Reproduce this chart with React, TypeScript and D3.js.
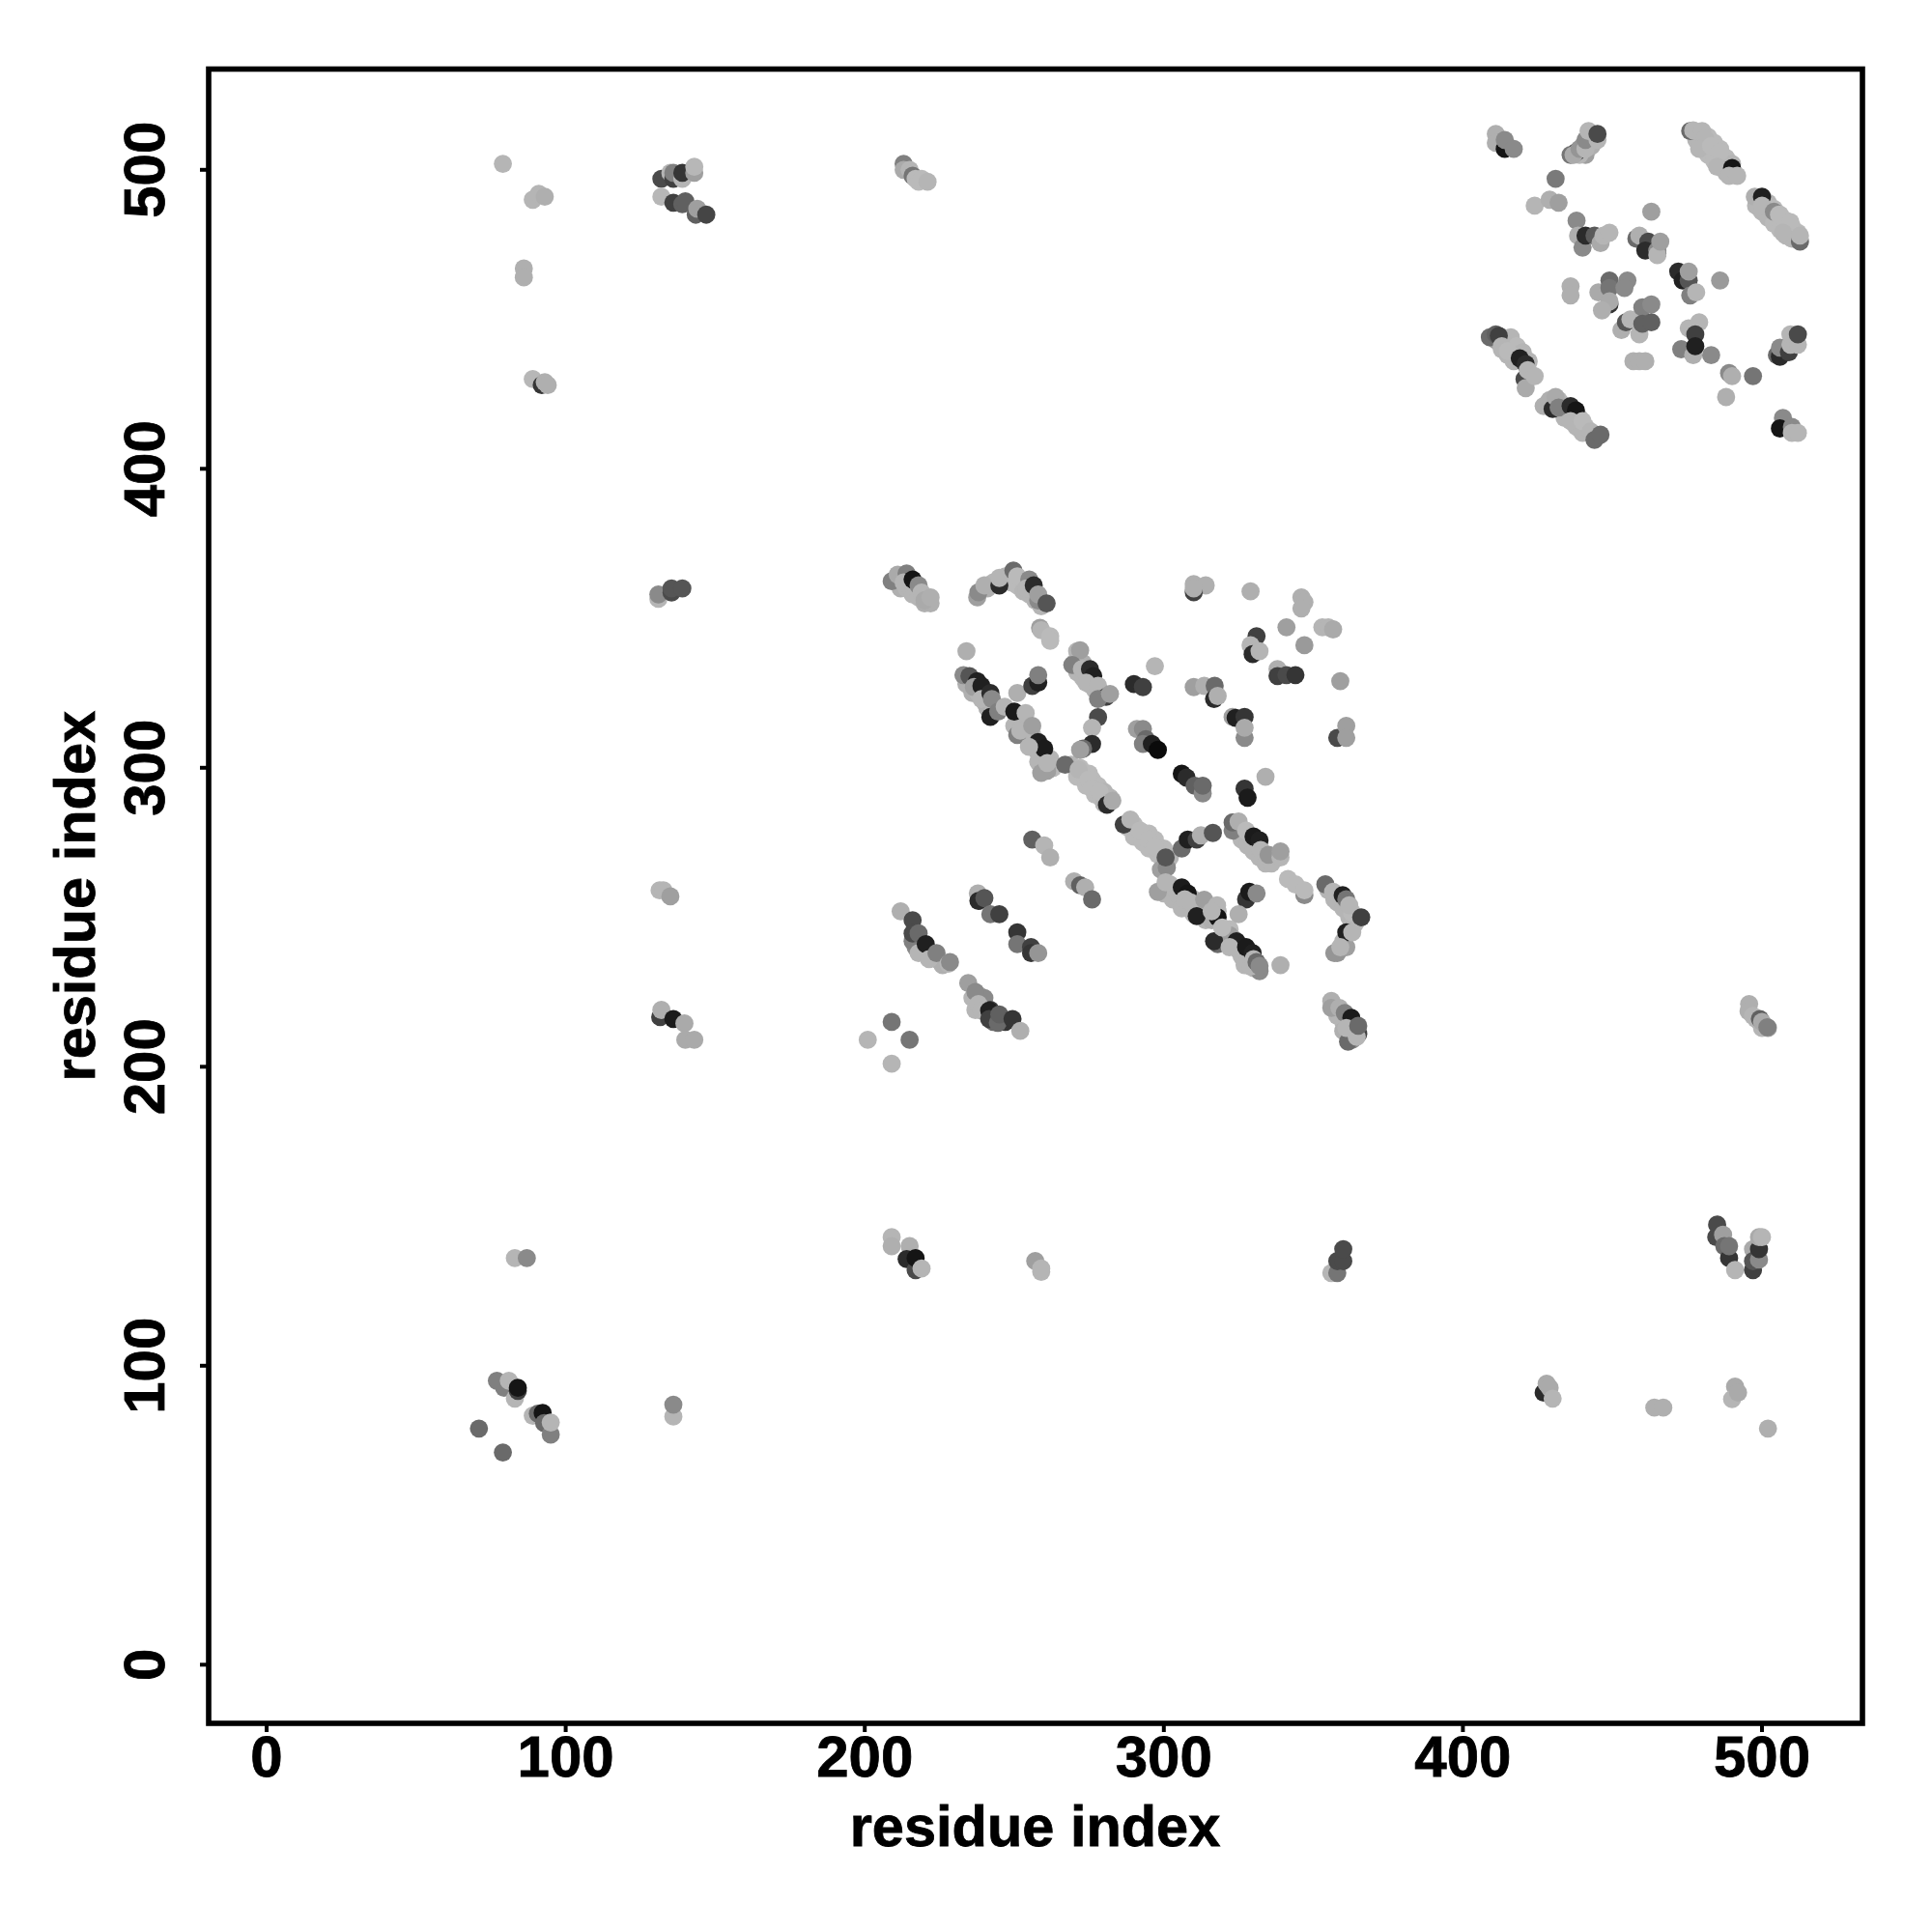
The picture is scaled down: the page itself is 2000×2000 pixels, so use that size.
import React from "react";
import * as d3 from "d3";

type C = [number, number, number];

const tickValues = [0, 100, 200, 300, 400, 500];
const xTitle = "residue index";
const yTitle = "residue index";

// each contact: [residue i, residue j, grey level]
const underlay: C[] = [
  [478,510,170],[480,507,170],[482,505,175],[484,503,175],[486,501,170],[488,499,170],[482,511,175],[484,509,175],[486,507,175],[488,504,175],[490,502,170],
  [498,488,170],[500,486,170],[502,484,170],[504,482,175],[506,480,175],[508,478,170],[502,489,170],[504,487,175],[506,485,175],[508,483,175],[510,481,175],[512,479,175],[510,477,170],
  [413,444,170],[415,442,170],[417,440,175],[419,437,170],[421,435,170],[416,444,170],[418,441,175],[420,439,170],[422,436,170],[411,443,150],[413,440,170],[415,438,170],[417,436,170],
  [429,423,165],[432,423,170],[434,421,170],[435,418,170],[437,417,175],[439,417,175],[441,414,175],[443,412,170],[438,414,170],[440,412,170],[434,417,170],
  [440,508,160],[442,509,170],[441,505,150],[443,508,165],[439,505,170],
  [234,328,165],[236,325,165],[238,325,170],[240,322,170],[241,320,165],[243,319,170],
  [250,314,170],[251,316,170],[253,314,170],[254,311,170],[255,309,170],[256,311,170],[258,305,170],[260,303,170],[262,303,170],[258,302,170],[263,300,175],[261,299,150],
  [269,301,170],[271,297,175],[272,300,175],[273,298,175],[275,298,175],[274,294,175],[276,296,175],[278,294,175],[277,291,175],[279,290,175],[280,292,170],[282,290,170],[280,288,170],
  [288,280,175],[290,281,175],[290,277,175],[292,279,175],[293,275,175],[295,278,175],[295,273,175],[297,276,175],[298,271,175],[300,273,175],[300,268,170],[302,270,170],[299,266,150],
  [300,258,170],[302,261,170],[303,256,170],[305,257,170],[304,259,170],[306,253,170],[308,253,170],[310,256,170],[310,251,170],[312,252,170],[314,249,170],[315,253,170],[316,249,165],[318,252,170],
  [320,244,175],[322,246,175],[323,243,170],[325,239,170],[326,237,170],[328,236,170],[330,233,170],[332,232,130],[327,234,170],[329,233.5,170],[318,241,100],[322,244,150],
  [247,364,170],[249,362,175],[251,361,175],[253,359,170],[255,358,170],[257,356,170],[259,354,170],[258,356,130],[241,360,165],[243,362,170],
  [270,335,165],[271,332,170],[273,330,170],[275,328,170],[277,326,170],[279,324,170],[271,336,170],[273,335,165],[275,331,120],
  [325,279,170],[326,276,170],[328,274,170],[330,272,170],[332,270,170],[334,268,170],[336,268,170],[323,279,120],[329,277,170],
  [355,259,170],[357,256,170],[358,255,170],[360,253,170],[362,250,170],[364,248,175],[363,248,170],[360,242,170],[358,238,140],[361,240,150],
  [212,360,165],[214,360,170],[216,358,170],[218,357,170],[220,355,165],[222,355,165],
  [220,238,170],[222,237,170],[224,236,170],[226,234,165],[218,240,170],[217,240,130],
  [238,224,170],[240,219,170],[240,223,130],[242,219,60],[243,215,100],[236,223,170],[237,219,170],[245,215,60],[247,215,50],
  [358,217,170],[360,215,170],[362,214,170],[364,212,170],[360,212,165],[363,209,130],
  [498,216,170],[500,213,170],[502,213,150],
];
const topLeft: C[] = [
  [79,502,170],[89,490,170],[91,492,170],[93,491,165],[86,467,165],[86,464,165],
  [89,430,172],[92,428,50],[93,429,165],[94,428,165],
  [132,497,70],[135,499,170],[136,497,60],[136,499,120],[139,497,170],[139,499,50],[143,499,150],[143,501,172],
  [132,491,172],[136,489,60],[139,488.5,90],[140,489.5,90],[143.5,485,90],[144,487,150],[147,485,65],
  [213,502,120],[213,500,160],[215,500,170],[216,498,110],[217,497,175],[218,496,175],[219,497,175],[221,496,170],
];
const topRightA: C[] = [
  [411,512,165],[411,509,165],[414,507,20],[414,510,130],[417,507,130],
  [436,505,110],[438,506,60],[437,505,160],[439,507,140],[441,507,170],[441,510,130],[442,513,170],[445,510,170],[445,512,70],
  [431,497,115],[424,488,170],[429,490,165],[432,489,150],
  [438,483,130],[438.5,478,165],[440,474,130],[441,478,40],[444,478,85],[446,475.5,160],[447,478,170],[449,479,170],
  [463,486,150],[458,477,100],[459,478,165],[462,476,70],[461,473,40],[465,472,40],[465,473,130],[465,471.5,170],[466,476,150],
  [472,466,40],[473.5,463,30],[475.5,463,80],[475.5,466,150],[476,458,120],[478,459,170],[486,463,145],
];
const topRightB: C[] = [
  [436,461,165],[436,458,165],[445.3,459,160],[449,463,100],[449,460.5,110],[449,455,50],[449,456,160],[446.5,453,165],[455,463,130],[454,460.5,130],
  [453,446.4,165],[454.5,449,80],[456,450,170],[460,454,120],[463,455,130],[459,445,170],[460,448.5,90],[463,449,90],
  [457,436,165],[459,436,165],[461,436,165],
  [473,440,120],[475.5,447,170],[479,449,170],[477.7,445,60],[477,438,165],[477.7,441,30],[483,438,130],
  [489,432,130],[490,431,165],[488,424,165],[497,431,110],
  [476,513,100],[477,513.2,170],[480,513,170],[481,510.5,170],[479,507,170],[483,508,175],[486,506,175],[485,501,170],[490,500.6,20],[489,498,170],[491.7,498,170],
  [497.6,491,165],[500,491,30],[500,488,170],[504,486,130],[505.7,485,175],[509.5,482.5,175],[507,479,170],[512.7,476,100],[512.7,478,170],
  [409,444,100],[411,445,90],[412,444.5,60],[413,441,170],[415,439.4,175],[419,437,30],[421,435,40],[420.6,430,70],[421,427,160],[421.7,433,170],[424,431,170],
  [427,421,165],[430,420,40],[431,424,160],[432,420.5,120],[436,421,40],[437.8,419.5,20],[436,416,170],[440,416,175],[442.7,412.5,170],[444,409.7,100],[446,411.4,100],
  [505,438,100],[506,437.5,40],[506,440.5,130],[509,439,60],[509.5,441.5,170],[509.5,445,170],[512,441.5,170],[512,445,70],
  [507,417,130],[506,413.5,20],[510,414,130],[510,412,170],[512,412,170],
];
const middleUpper: C[] = [
  [131,356.5,170],[131,358,130],[135.4,358.6,70],[135.4,360,80],[139,360,80],
  [209,362.4,120],[211,364.6,160],[214,365,120],[213,362,170],[216,363,20],[218,361,130],[219,358.6,170],[220,356,160],[222,357,165],
  [237.6,357,150],[238,358.7,130],[240,361,165],[245,361,40],[245,363.5,170],[249.7,366,100],[251,364,175],[255,363,130],[254,360,170],[256.5,361,40],[258,358,150],[260.8,355,80],
  [258.6,346.8,150],[259,346,170],[262,344,175],[262,342.5,175],[234,339,165],
  [271,339,170],[272,339.3,150],[269.4,334.4,120],[272.6,333,170],[275.3,333,40],[276.4,330.7,30],[274,328.5,170],[278,327.4,170],[280.7,323.7,60],[278,323,120],[282,324.7,150],
  [297,334,170],[290,328,40],[293,327,60],
  [310,361.4,165],[314,361,165],[310,358.7,60],[310,360,165],[329,359,165],
  [346,357,165],[347,355.4,165],[346,353.3,165],[341,347,150],[353,347,170],[355,347,170],[356.6,346.3,160],[347,341,145],
  [331,344,60],[329,341,170],[329.7,338,40],[332,339,170],[338,333,165],[338,330.7,60],[341,331,70],[344,331,50],[359,329,150],
  [310,327,150],[313.5,327.4,165],[317,327.4,100],[316.8,323,40],[318,324,165],
  [323,317,150],[324,316.7,30],[327,317,50],[327,310,130],[327,313.4,160],[358,310,70],[361,314,150],[361,310,150],
];
const middleCore: C[] = [
  [233,331,130],[235,330.7,80],[237.6,329,30],[236.5,327,150],[239,327.4,30],[239,323,170],[242,325,40],[242,317,30],[242.5,323,130],[244.6,318.8,120],[251,325,165],
  [256,327.4,60],[258,328.5,30],[258,331,120],
  [246.8,320.4,170],[250,318.8,25],[251,311,120],[252,312.4,170],[253.8,318.3,170],[256,314,150],[258,308.6,30],[260,306.4,25],[254.9,307,170],
  [278,316.9,70],[276,313.4,170],[276,308,40],[273,306.4,100],[272,306,150],
  [259,298.3,150],[261,301.6,170],[267,301,100],[271.5,299.4,170],[274.8,296,175],[276,293,175],[278.5,292,175],[281,287.6,40],[282.8,289,160],
  [291,313,150],[293,313,130],[294,309.6,100],[293,308,120],[296,308,30],[298,306,10],
  [306,298,20],[307.6,296.7,40],[310.3,294,90],[313,291.4,130],[313,294,100],
  [327,293,50],[328,290,25],[334,297,165],
  [286.6,281,60],[288.8,282.7,170],[292,279,175],[295,276,175],[297,273.5,175],[301,266.6,130],[300.6,270,80],
  [306,273,100],[308,276,30],[311,276,60],[312.4,277.4,165],[316.4,278.2,80],
  [323,281.7,100],[325,282,165],[327.5,279,175],[330,277,25],[332,275.7,30],[332.4,272.5,170],[335,270.9,140],[339,270,170],[339,272,150],
  [347,257.4,130],[341.5,262.8,175],[344,261,175],[347,259,175],
];
const middleLower: C[] = [
  [131.4,259,170],[132.7,259,170],[135,257,150],
  [131.6,216.6,60],[132,219,165],[136,216,25],[139.7,214.5,160],[140,209,160],[143,209,160],
  [209,215,110],[201,209,170],[215,209,110],[209,201,170],
  [212,252,165],[216,249,70],[216,242,120],[216,244.6,70],[218,244.6,100],[218,238,170],[220.4,241,30],[221.5,236,170],[224,238,120],[228,234.5,170],[228.5,235,130],
  [234.6,228,150],[237,225,130],[238,221,170],[239,218.8,170],[241.6,218.8,30],[241.6,216,60],[244.5,214.7,100],[245,217.5,90],[249.4,216,50],[252,212,165],
  [256,276,90],[260,274,170],[262,270,165],
  [270,262,165],[272,260.7,90],[273.7,260,165],[276,256,100],
  [237.8,258,165],[238,255.5,40],[240,256.4,80],[242,251,110],[245,251,60],
  [251,245,50],[251,241,110],[255.6,240,60],[255.6,238,50],[258,238,140],
  [298,258.5,150],[300.6,261.7,170],[306,260,25],[308,258,20],[307,256,170],[309,255,170],[311,250.4,30],[313.5,255.9,150],[317.8,254,170],[318,250,20],[316,252,170],
  [327.5,256,50],[328.6,258.5,25],[331,258,130],[325,251,165],
  [316.8,242,40],[319.5,246.6,175],[324.3,242,30],[322,240,170],[327.5,240,25],[329.7,238,30],[330,236,170],[331,235,100],[332,233.7,130],[339,234,165],
  [354,261,100],[356.6,258.5,170],[359.8,257.4,30],[361,256,110],[363,251.5,175],[362,254,170],[366,250,60],[361,245,30],[363,245,170],[357,238,140],[359,240,170],
  [356,222,165],[356,219.7,150],[358.7,219.7,165],[360.5,218,120],[361.6,208.4,100],[365,211,60],[362.7,216.4,25],[364.5,210,170],[361,213,170],[365,213.7,100],
];
const bottomRow: C[] = [
  [83,136,170],[87,136,130],
  [77,95,120],[79.4,92.6,120],[81,95,170],[83,89,170],[84,91.6,60],[84,92.6,20],[89,83.3,170],[90.7,84,100],[92.3,84.2,20],[92.8,80.8,100],[95,77,120],[95,81,170],[71,79,100],[79,71,100],
  [136,83,170],[136,87,130],
  [209,143,170],[209,140,165],[215,140,165],[214,135.7,40],[217,132,70],[217,136,20],[219,132.5,170],
  [257,135,150],[259,131.4,170],[259,132.5,170],
  [356,131,170],[358,131,110],[358,135,70],[360,135,70],[360,139,70],
  [495.7,221,165],[495.5,218.6,165],[497,217,170],[499.3,216,90],[500,215,160],[501.8,213.2,120],
  [485,147.2,70],[484.7,143,70],[487,143.8,150],[487.4,140,100],[489,136,50],[489,140,110],[491,132,170],
  [497,139,160],[497,132,60],[497,135,80],[499,135.5,130],[499,139,50],[499,143,160],[500,143,170],
  [427,91,40],[428,94,160],[429,92.6,160],[430,89,170],
  [464,86,165],[467,86,165],
  [491,93,160],[490,88.8,170],[492,91,160],
  [502,79,165],
];
const contacts: C[] = [...underlay, ...topLeft, ...topRightA, ...topRightB, ...middleUpper, ...middleCore, ...middleLower, ...bottomRow];

const x = d3.scaleLinear().domain([0, 500]).range([276, 1824]);
const y = d3.scaleLinear().domain([0, 500]).range([1723.3, 175.8]);
const grey = d3.scaleLinear<string>().domain([0, 240]).range(["#000000", "#ffffff"]);
const FONT = "'Liberation Sans', Arial, sans-serif";

export default function App() {
  return (
    <svg width={2000} height={2000} style={{ position: "absolute", left: 0, top: 0, background: "#fff" }} fontFamily={FONT} fontWeight="bold" fill="#000" stroke="none">
      {contacts.map((c, i) => (
        <circle key={i} cx={x(c[0])} cy={y(c[1])} r={9.4} fill={grey(c[2])} />
      ))}
      <rect x={216} y={71.5} width={1712} height={1712.5} fill="none" stroke="#000" strokeWidth={5.6} />
      {tickValues.map((t) => (
        <g key={t}>
          <line x1={x(t)} x2={x(t)} y1={1786} y2={1793} stroke="#000" strokeWidth={4} />
          <text x={x(t)} y={1839} textAnchor="middle" fontSize={60} stroke="#000" strokeWidth={0.8}>{t}</text>
          <line x1={207} x2={214} y1={y(t)} y2={y(t)} stroke="#000" strokeWidth={4} />
          <text transform={`translate(170,${y(t)}) rotate(-90)`} textAnchor="middle" fontSize={60} stroke="#000" strokeWidth={0.8}>{t}</text>
        </g>
      ))}
      <text x={1071.5} y={1911} textAnchor="middle" fontSize={59.5} stroke="#000" strokeWidth={0.8}>{xTitle}</text>
      <text transform="translate(98,927.7) rotate(-90)" textAnchor="middle" fontSize={59.5} stroke="#000" strokeWidth={0.8}>{yTitle}</text>
    </svg>
  );
}
